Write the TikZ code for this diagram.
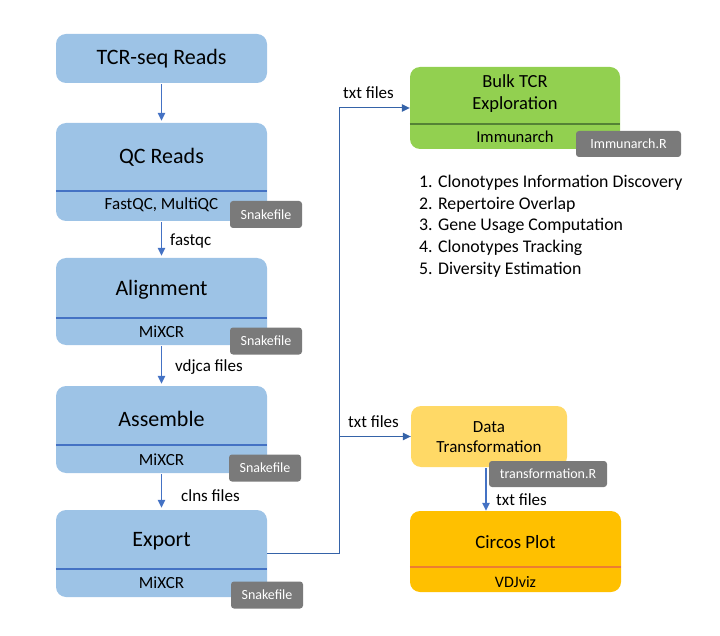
\documentclass[tikz,border=0pt]{standalone}
\usepackage{fontspec}
\setmainfont{Carlito}
\usetikzlibrary{arrows.meta}
\definecolor{stepblue}{HTML}{9DC3E6}
\definecolor{ruleblue}{HTML}{4472C4}
\definecolor{linkblue}{HTML}{3563A8}
\definecolor{taggray}{HTML}{7A7A7A}
\definecolor{bulkgreen}{HTML}{92D050}
\definecolor{rulegreen}{HTML}{548235}
\definecolor{datayellow}{HTML}{FFD966}
\definecolor{plotorange}{HTML}{FFC000}
\definecolor{ruleorange}{HTML}{ED7D31}
\begin{document}
\begin{tikzpicture}[x=1pt,y=-1pt,
  stage/.style={rectangle,rounded corners=10pt,fill=stepblue,minimum width=211pt,minimum height=#1,inner sep=0pt},
  head/.style={font=\fontsize{22}{26}\selectfont,inner sep=0pt},
  sub/.style={font=\fontsize{17}{20}\selectfont,inner sep=0pt},
  tag/.style={rectangle,rounded corners=3pt,fill=taggray,text=white,font=\fontsize{14}{16}\selectfont,minimum height=27pt,inner sep=0pt},
  lbl/.style={font=\fontsize{17}{20}\selectfont,inner sep=0pt},
  rule/.style={draw=ruleblue,line width=2pt},
  flow/.style={-{Triangle[length=8pt,width=7.5pt]},draw=ruleblue,line width=1.3pt,shorten >=2pt,shorten <=1pt},
  link/.style={-{Triangle[length=8pt,width=7.5pt]},draw=linkblue,line width=1pt}]

  \useasboundingbox (0,0) rectangle (720,636);

  \node[stage=49pt,head] (1) at (161.5,58.5) {TCR-seq Reads};

  \node[stage=98pt] (2) at (161.5,172) {};
  \node[head] (2a) at (161.5,157) {QC Reads};
  \draw[rule] (2.west |- 0,191) -- (2.east |- 0,191);
  \node[sub] (2b) at (161.5,205) {FastQC, MultiQC};
  \node[tag,minimum width=72pt] (2c) at (266,214.5) {Snakefile};

  \node[stage=87pt] (3) at (161.5,301.5) {};
  \node[head] (3a) at (161.5,290) {Alignment};
  \draw[rule] (3.west |- 0,318) -- (3.east |- 0,318);
  \node[sub] (3b) at (161.5,332) {MiXCR};
  \node[tag,minimum width=72pt] (3c) at (266,341) {Snakefile};

  \node[stage=87pt] (4) at (161.5,429.5) {};
  \node[head] (4a) at (161.5,419) {Assemble};
  \draw[rule] (4.west |- 0,445) -- (4.east |- 0,445);
  \node[sub] (4b) at (161.5,460) {MiXCR};
  \node[tag,minimum width=72pt] (4c) at (265,468) {Snakefile};

  \node[stage=87pt] (5) at (161.5,553.5) {};
  \node[head] (5a) at (161.5,541) {Export};
  \draw[rule] (5.west |- 0,569) -- (5.east |- 0,569);
  \node[sub] (5b) at (161.5,583) {MiXCR};
  \node[tag,minimum width=72pt] (5c) at (267,595) {Snakefile};

  \draw[flow] (1) -- (2);
  \draw[flow] (2) -- (3);
  \draw[flow] (3) -- (4);
  \draw[flow] (4) -- (5);
  \node[lbl,anchor=west] (f1) at (170,241) {fastqc};
  \node[lbl,anchor=west] (f2) at (175,367) {vdjca files};
  \node[lbl,anchor=west] (f3) at (181,496) {clns files};

  \node[stage=82pt,minimum width=210pt,fill=bulkgreen] (6) at (515,108) {};
  \node[sub,font=\fontsize{18.5}{22}\selectfont,align=center] (6a) at (515,94) {Bulk TCR\\Exploration};
  \draw[draw=rulegreen,line width=2pt] (6.west |- 0,124) -- (6.east |- 0,124);
  \node[sub,font=\fontsize{16.6}{20}\selectfont] (6b) at (515,137) {Immunarch};
  \node[tag,minimum width=105pt,minimum height=26pt] (6c) at (628.5,144) {Immunarch.R};
  \node[align=left,inner sep=0pt,font=\fontsize{17.8}{21.7}\selectfont,anchor=west] (6d) at (419,226)
    {1. Clonotypes Information Discovery\\2. Repertoire Overlap\\3. Gene Usage Computation\\4. Clonotypes Tracking\\5. Diversity Estimation};

  \node[stage=61pt,minimum width=156pt,fill=datayellow] (7) at (489,436.5) {};
  \node[sub,align=center] (7a) at (489,437) {Data\\Transformation};
  \node[tag,minimum width=118pt,minimum height=26pt] (7c) at (548,474) {transformation.R};

  \node[stage=81pt,fill=plotorange] (8) at (515.5,551.5) {};
  \node[sub,font=\fontsize{18.8}{22}\selectfont] (8a) at (515.5,542) {Circos Plot};
  \draw[draw=ruleorange,line width=2pt] (8.west |- 0,567) -- (8.east |- 0,567);
  \node[sub,font=\fontsize{16}{20}\selectfont] (8b) at (515.5,582) {VDJviz};

  \coordinate (j) at (339,0);
  \draw[link] (5.east) -| (j |- 6.west) -- (6.west);
  \draw[link] (j |- 7.west) -- (7.west);
  \draw[flow,shorten >=0pt] (7.south -| 486,0) -- (8.north -| 486,0);
  \node[lbl] (t1) at (368.5,93) {txt files};
  \node[lbl] (t2) at (373.5,422) {txt files};
  \node[lbl] (t3) at (521.5,500) {txt files};
\end{tikzpicture}
\end{document}
